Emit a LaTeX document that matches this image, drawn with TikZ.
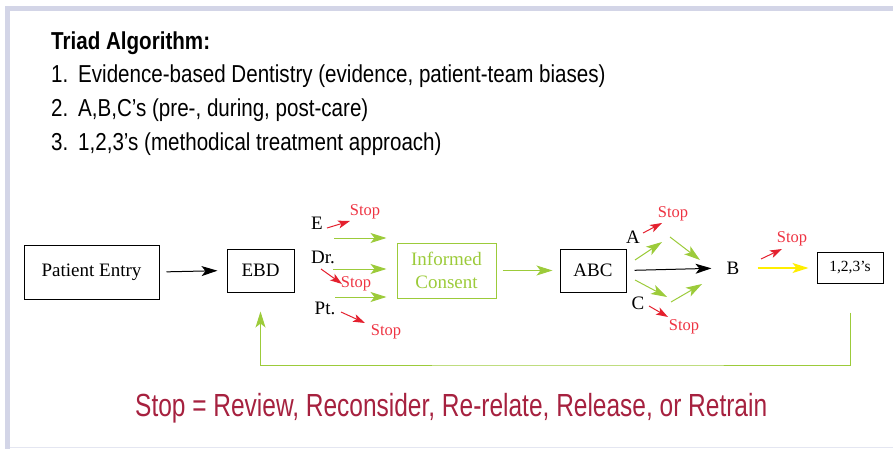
\documentclass[tikz,border=0pt]{standalone}
\usepackage{fontspec}
\setmainfont{Liberation Serif}
\newfontfamily\listfont[FakeStretch=0.84]{Liberation Sans}
\newfontfamily\notefont[FakeStretch=0.765]{Liberation Sans}
\usetikzlibrary{arrows.meta,calc,positioning}
\definecolor{framecol}{HTML}{D3D5E7}
\definecolor{gcol}{HTML}{9CCB3A}
\definecolor{rcol}{HTML}{E4202E}
\definecolor{stopcol}{HTML}{EE3342}
\definecolor{ycol}{HTML}{FFEE00}
\definecolor{notecol}{HTML}{A6213F}

\begin{document}
\begin{tikzpicture}[x=1pt,y=-1pt,>={Stealth[length=16pt,width=10pt,inset=4pt]},
box/.style = {draw, line width=1pt, inner sep=0pt, font=\fontsize{19}{23}\selectfont},
lbl/.style = {inner sep=2pt, font=\fontsize{19}{23}\selectfont},
stoptxt/.style = {inner sep=0pt, text=stopcol, font=\fontsize{16.5}{20}\selectfont},
listtxt/.style = {anchor=base west, inner sep=0pt, font=\listfont\fontsize{24.5}{28}\selectfont},
barrow/.style = {->, line width=1pt},
garrow/.style = {->, gcol, line width=1pt},
rarrow/.style = {-{Stealth[length=12pt,width=8pt,inset=3pt]}, rcol, line width=1pt},]
\useasboundingbox (0,0) rectangle (893,449);
% frame
\fill[framecol] (5,6) rectangle (893,11);
\fill[framecol] (5,6) rectangle (10,449);
\draw[framecol!60, line width=0.8pt] (10,447.5) -- (893,447.5);
% list
\node (head) at (51,50)[listtxt] {\bfseries Triad Algorithm:};
\node (n1) at (51,83)[listtxt] {1.};
\node (n2) at (51,117)[listtxt] {2.};
\node (n3) at (51,151)[listtxt] {3.};
\node (t1) at (78,83)[listtxt] {Evidence-based Dentistry (evidence, patient-team biases)};
\node (t2) at (78,117)[listtxt] {A,B,C’s (pre-, during, post-care)};
\node (t3) at (78,151)[listtxt] {1,2,3’s (methodical treatment approach)};
% boxes
\node (PE) at (91.5,272)[box, minimum width=135pt, minimum height=54pt] {Patient Entry};
\node (EBD) at (260.5,270.5)[box, minimum width=67pt, minimum height=43pt] {EBD};
\node (IC) at (446.5,270.5)[box, draw=gcol, text=gcol, align=center, minimum width=99pt, minimum height=55pt] {Informed\\Consent};
\node (ABC) at (593,270.5)[box, minimum width=66pt, minimum height=43pt] {ABC};
\node (N123) at (850,267.5)[box, minimum width=66pt, minimum height=31pt, font=\fontsize{15.5}{18}\selectfont] {1,2,3’s};
% labels
\node (E) at (317,223)[lbl] {E};
\node (Dr) at (323,257)[lbl] {Dr.};
\node (Pt) at (325,308)[lbl] {Pt.};
\node (A) at (633,237)[lbl] {A};
\node (C) at (638,303)[lbl] {C};
\node (B) at (733,268)[lbl] {B};
\node (stopE) at (365,212)[stoptxt] {Stop};
\node (stopDr) at (356,284)[stoptxt] {Stop};
\node (stopPt) at (386,332)[stoptxt] {Stop};
\node (stopA) at (673,214)[stoptxt] {Stop};
\node (stopC) at (684,327)[stoptxt] {Stop};
\node (stopB) at (792,239)[stoptxt] {Stop};
% main flow
\draw[barrow, shorten <=7pt, shorten >=9pt] (PE.east) -- (EBD.east -| EBD.west);
\draw[garrow, shorten <=6pt, shorten >=7pt] (IC.east) -- (ABC.west);
\draw[barrow, shorten <=8pt, shorten >=13pt] (ABC.east) -- (B.west);
\draw[->, ycol, line width=1.3pt, shorten <=16pt, shorten >=8pt] (B.east) -- (N123.west |- B.east);
% green arrows into consent
\coordinate (gE) at (334,238);
\coordinate (gDr) at (333,269);
\coordinate (gPt) at (335,297);
\draw[garrow, shorten >=10pt] (gE) -- (gE -| IC.west);
\draw[garrow, shorten >=10pt] (gDr) -- (gDr -| IC.west);
\draw[garrow, shorten >=10pt] (gPt) -- (gPt -| IC.west);
% green arrows A / C
\coordinate (a1) at (635,260); \coordinate (a2) at (662,242);
\coordinate (a3) at (670,237); \coordinate (a4) at (700,260);
\coordinate (c1) at (635,280); \coordinate (c2) at (667,297);
\coordinate (c3) at (671,302); \coordinate (c4) at (702,284);
\draw[garrow] (a1) -- (a2);
\draw[garrow] (a3) -- (a4);
\draw[garrow] (c1) -- (c2);
\draw[garrow] (c3) -- (c4);
% red stop arrows
\coordinate (rE1) at (327,228); \coordinate (rE2) at (350,221);
\coordinate (rDr1) at (321,269); \coordinate (rDr2) at (342,284);
\coordinate (rPt1) at (341,312); \coordinate (rPt2) at (365,323);
\coordinate (rA1) at (643,233); \coordinate (rA2) at (662,223);
\coordinate (rC1) at (649,306); \coordinate (rC2) at (668,317);
\coordinate (rB1) at (761,259); \coordinate (rB2) at (782,249);
\draw[rarrow] (rE1) -- (rE2);
\draw[rarrow] (rDr1) -- (rDr2);
\draw[rarrow] (rPt1) -- (rPt2);
\draw[rarrow] (rA1) -- (rA2);
\draw[rarrow] (rC1) -- (rC2);
\draw[rarrow] (rB1) -- (rB2);
% feedback loop
\coordinate (fb) at (600,365);
\draw[garrow, shorten >=19pt] ($(N123.south)+(0,29)$) |- (fb) -| (EBD.south);
% note
\node (note) at (135,416)[anchor=base west, inner sep=0pt, text=notecol, font=\notefont\fontsize{32}{36}\selectfont] {Stop = Review, Reconsider, Re-relate, Release, or Retrain};
\end{tikzpicture}
\end{document}
